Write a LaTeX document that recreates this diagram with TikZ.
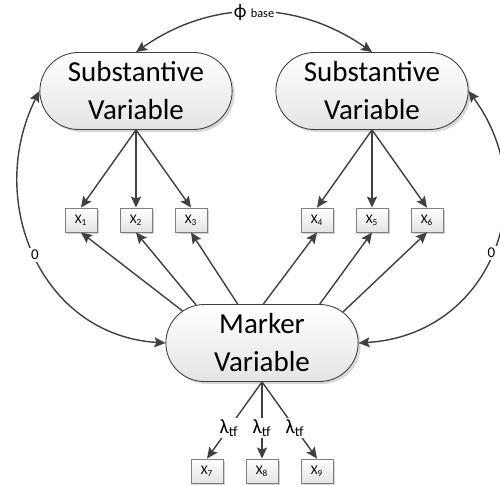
\documentclass[tikz,border=0pt]{standalone}
\usepackage{fontspec}
\setmainfont{Carlito}
\usepackage{xcolor}
\usetikzlibrary{shapes.misc,arrows.meta,shadows,positioning}

\definecolor{linegray}{HTML}{404040}
\definecolor{fillgray}{HTML}{E4E4E4}

\tikzset{
    latent/.style={rounded rectangle, draw=linegray, line width=0.5pt,
        top color=white, bottom color=fillgray,
        minimum width=4.08cm, minimum height=1.54cm, align=center,
        font=\fontsize{16.5pt}{21.6pt}\selectfont,
        drop shadow={shadow xshift=0.05cm, shadow yshift=-0.05cm, fill=gray!60, opacity=0.5}},
    indicator/.style={rectangle, draw=gray, line width=0.5pt,
        top color=white, bottom color=fillgray,
        minimum width=0.64cm, minimum height=0.48cm, inner sep=0pt,
        font=\fontsize{7.5pt}{9pt}\selectfont,
        drop shadow={shadow xshift=0.04cm, shadow yshift=-0.04cm, fill=gray!60, opacity=0.6}},
    tip/.tip={Stealth[length=0.22cm,width=0.2cm,inset=0.04cm]},
    loading/.style={-tip, draw=linegray, line width=0.8pt},
    covar/.style={tip-tip, draw=linegray, line width=0.8pt},
    lab/.style={fill=white, inner sep=1pt, text=black}
}

\begin{document}
\begin{tikzpicture}[x=0.02cm, y=0.02cm]
    \useasboundingbox (0,0) rectangle (500,484);
    \clip (0,0) rectangle (500,484);

    % 潜变量
    \node[latent] (sub1) at (136,393) {Substantive\\Variable};
    \node[latent] (sub2) at (372,393) {Substantive\\Variable};
    \node[latent] (mk) at (262,141) {Marker\\Variable};

    % 指标
    \node[indicator] (x1) at (81,264) {X\textsubscript{1}};
    \node[indicator] (x2) at (136,264) {X\textsubscript{2}};
    \node[indicator] (x3) at (191,264) {X\textsubscript{3}};
    \node[indicator] (x4) at (317,264) {X\textsubscript{4}};
    \node[indicator] (x5) at (372,264) {X\textsubscript{5}};
    \node[indicator] (x6) at (427,264) {X\textsubscript{6}};
    \node[indicator] (x7) at (207,13) {X\textsubscript{7}};
    \node[indicator] (x8) at (262,13) {X\textsubscript{8}};
    \node[indicator] (x9) at (317,13) {X\textsubscript{9}};

    % 因子载荷
    \draw[loading] (sub1.south) -- (x1.north);
    \draw[loading] (sub1.south) -- (x2.north);
    \draw[loading] (sub1.south) -- (x3.north);
    \draw[loading] (sub2.south) -- (x4.north);
    \draw[loading] (sub2.south) -- (x5.north);
    \draw[loading] (sub2.south) -- (x6.north);

    % 标记变量载荷
    \draw[loading] (mk.158) -- (x1.south);
    \draw[loading] (mk.150) -- (x2.south);
    \draw[loading] (mk.122) -- (x3.south);
    \draw[loading] (mk.88) -- (x4.south);
    \draw[loading] (mk.34) -- (x5.south);
    \draw[loading] (mk.21) -- (x6.south);
    \draw[loading] (mk.south) -- node[lab, pos=0.6, font=\fontsize{11.5pt}{13pt}\selectfont] {λ\textsubscript{tf}} (x7.north);
    \draw[loading] (mk.south) -- node[lab, pos=0.6, font=\fontsize{11.5pt}{13pt}\selectfont] {λ\textsubscript{tf}} (x8.north);
    \draw[loading] (mk.south) -- node[lab, pos=0.6, font=\fontsize{11.5pt}{13pt}\selectfont] {λ\textsubscript{tf}} (x9.north);

    % 协方差
    \draw[covar] (sub1.north) to[bend left=35]
        node[lab, font=\fontsize{11pt}{12pt}\selectfont] {ϕ {\fontsize{7pt}{8pt}\selectfont base}} (sub2.north);
    \draw[covar] (sub1.west) .. controls (-15,284) and (40,149) ..
        node[lab, font=\fontsize{8.5pt}{10pt}\selectfont] {0} (mk.west);
    \draw[covar] (sub2.east) .. controls (545,289) and (490,149) ..
        node[lab, font=\fontsize{8.5pt}{10pt}\selectfont] {0} (mk.east);
\end{tikzpicture}
\end{document}
